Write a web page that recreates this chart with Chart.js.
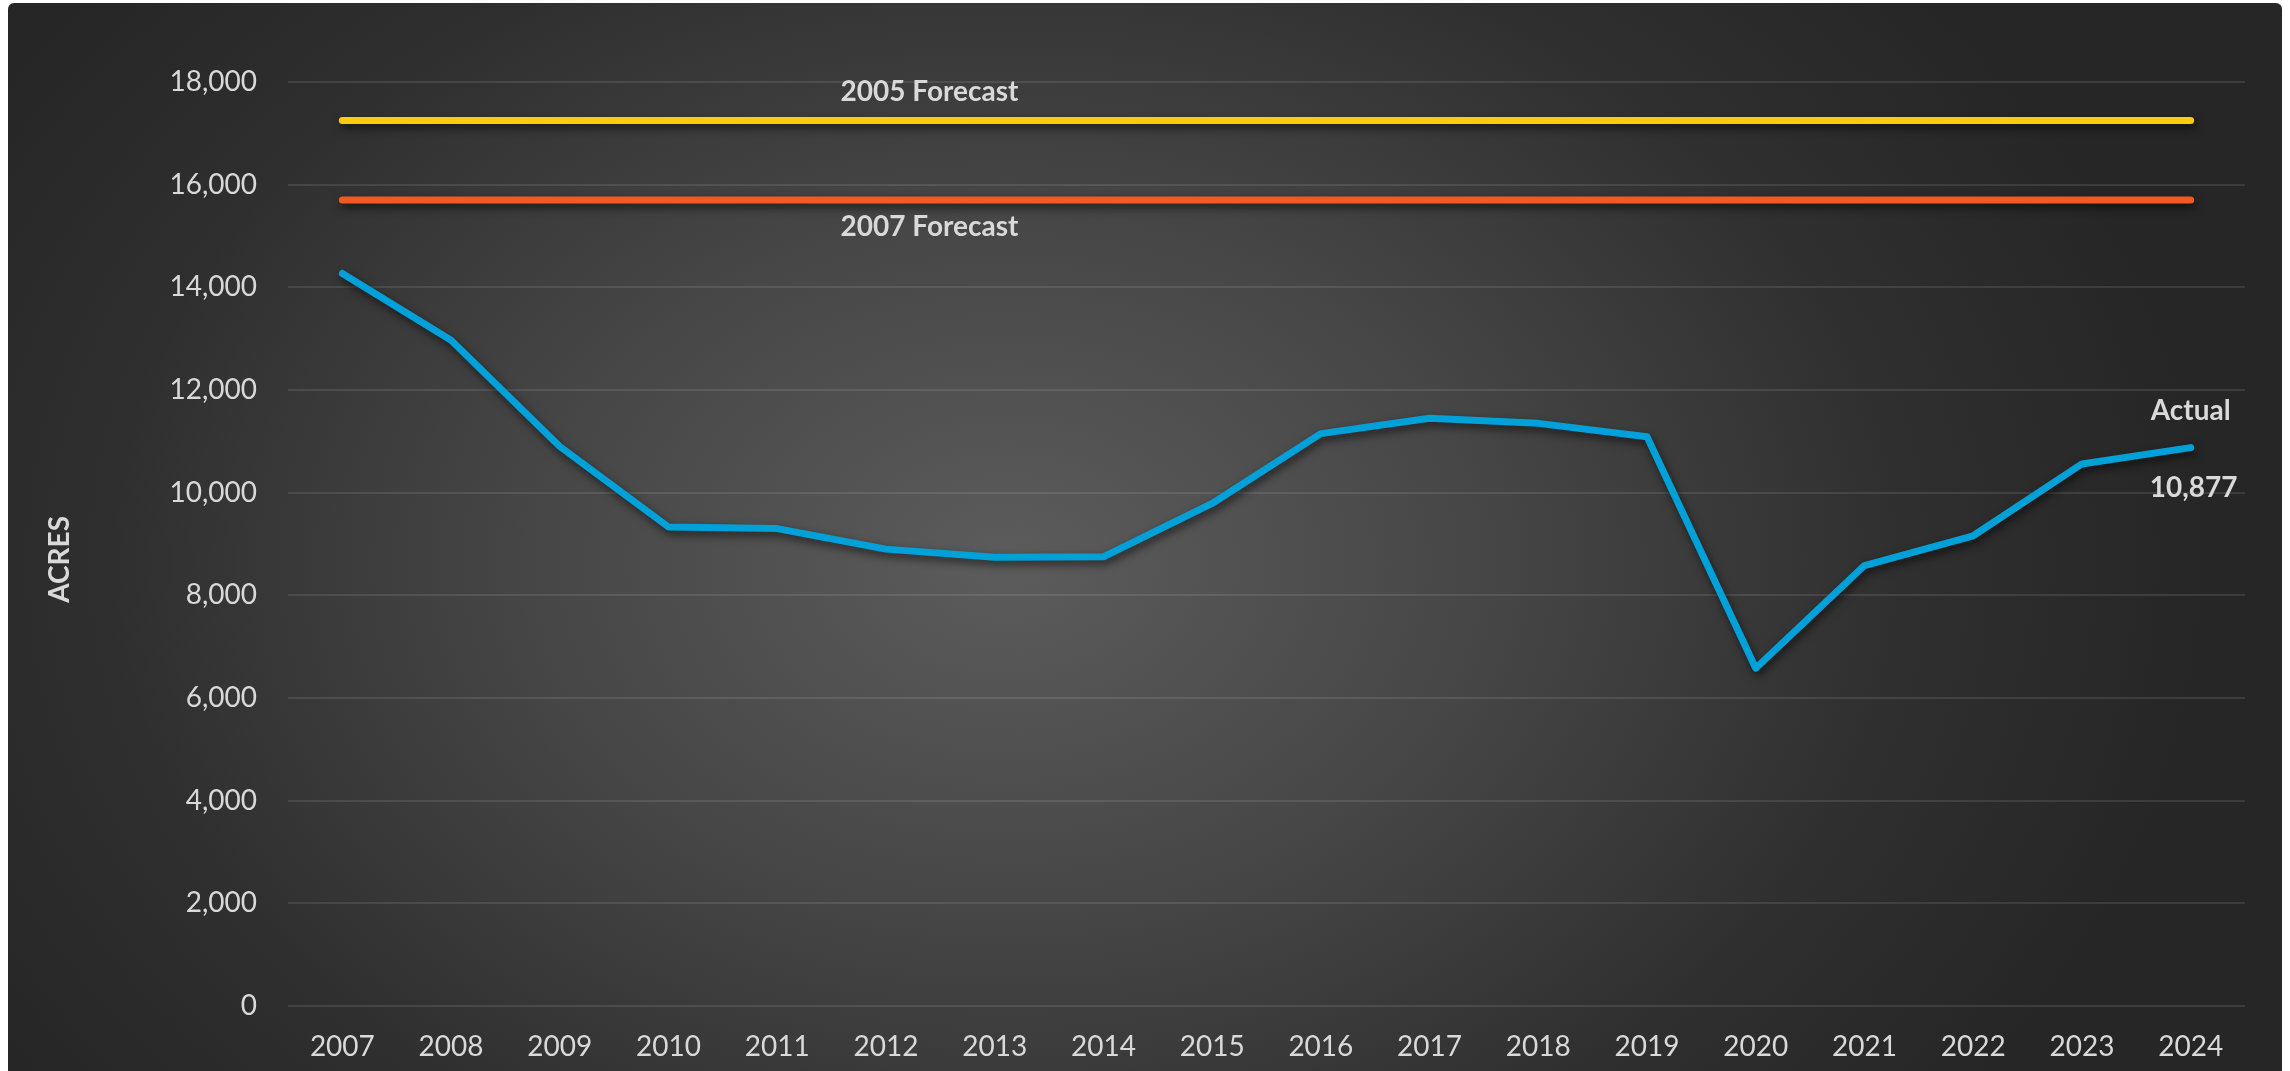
<!DOCTYPE html>
<html>
<head>
<meta charset="utf-8">
<script src="https://cdn.jsdelivr.net/npm/chart.js@4"></script>
<style>
  html, body { margin: 0; padding: 0; background: #fff; }
  #panel {
    position: absolute; left: 8px; top: 3px; width: 2274px; height: 1100px;
    border-radius: 6px;
    background: radial-gradient(ellipse 1200px 880px at 1000px 560px, #5c5c5c 0%, #464646 40%, #2f2f2f 75%, #262626 100%);
  }
  #wrap { position: absolute; left: 0; top: 0; width: 2290px; height: 1071px; }
</style>
</head>
<body>
<div id="panel"></div>
<div id="wrap"><canvas id="myChart" width="2290" height="1071"></canvas></div>
<script>
const years = ['2007', '2008', '2009', '2010', '2011', '2012', '2013', '2014', '2015',
    '2016', '2017', '2018', '2019', '2020', '2021', '2022', '2023', '2024'];
const actualAcres = [14270, 12970, 10900, 9330, 9300, 8900, 8740, 8750, 9790,
    11150, 11450, 11350, 11090, 6580, 8580, 9160, 10560, 10877];
const forecast2005 = 17250;
const forecast2007 = 15700;
const yTicks = [0, 2000, 4000, 6000, 8000, 10000, 12000, 14000, 16000, 18000];

const textColor = '#d9d9d9';
const fontFamily = 'Lato, "Open Sans", sans-serif';

let ctx = document.getElementById('myChart').getContext('2d');

// soft drop shadow under every line
const lineShadow = {
    id: 'lineShadow',
    beforeDatasetsDraw(chart) {
        const c = chart.ctx;
        c.save();
        c.shadowColor = 'rgba(0, 0, 0, 0.6)';
        c.shadowBlur = 9;
        c.shadowOffsetX = 2;
        c.shadowOffsetY = 4;
    },
    afterDatasetsDraw(chart) {
        chart.ctx.restore();
    },
};

// text labels next to the lines, plus the y axis title
const lineLabels = {
    id: 'lineLabels',
    afterDatasetsDraw(chart) {
        const c = chart.ctx;
        const x = chart.scales.x;
        const y = chart.scales.y;
        const last = actualAcres.length - 1;
        c.save();
        c.fillStyle = textColor;
        c.font = 'bold 28px ' + fontFamily;
        c.textAlign = 'center';
        c.textBaseline = 'middle';
        c.fillText('2005 Forecast', x.getPixelForValue(5.4), y.getPixelForValue(forecast2005) - 29);
        c.fillText('2007 Forecast', x.getPixelForValue(5.4), y.getPixelForValue(forecast2007) + 27);
        const ex = x.getPixelForValue(last);
        const ey = y.getPixelForValue(actualAcres[last]);
        c.fillText('Actual', ex, ey - 37);
        c.fillText(actualAcres[last].toLocaleString('en-US'), ex + 3, ey + 40);
        // axis title
        c.translate(60, y.getPixelForValue(8700));
        c.rotate(-Math.PI / 2);
        c.fillText('ACRES', 0, 0);
        c.restore();
    },
};

new Chart(ctx, {
    type: 'line',
    data: {
        labels: years,
        datasets: [
            {
                label: '2005 Forecast',
                data: [{ x: years[0], y: forecast2005 }, { x: years[years.length - 1], y: forecast2005 }],
                borderColor: '#fdca10',
                borderWidth: 7,
                borderCapStyle: 'round',
                pointRadius: 0,
            },
            {
                label: '2007 Forecast',
                data: [{ x: years[0], y: forecast2007 }, { x: years[years.length - 1], y: forecast2007 }],
                borderColor: '#f15a22',
                borderWidth: 7,
                borderCapStyle: 'round',
                pointRadius: 0,
            },
            {
                label: 'Actual',
                data: actualAcres,
                borderColor: '#00a0d8',
                borderWidth: 7,
                borderCapStyle: 'round',
                borderJoinStyle: 'round',
                pointRadius: 0,
                tension: 0,
            },
        ],
    },
    options: {
        responsive: false,
        animation: false,
        layout: { padding: { top: 82, right: 45, left: 0, bottom: 0 } },
        plugins: {
            legend: { display: false },
            tooltip: { enabled: false },
        },
        scales: {
            x: {
                type: 'category',
                offset: true,
                grid: { display: false, drawTicks: false },
                border: { display: false },
                ticks: {
                    color: textColor,
                    padding: 24,
                    font: { family: fontFamily, size: 28 },
                    maxRotation: 0,
                },
                afterFit: (s) => { s.height = 65; },
            },
            y: {
                min: 0,
                max: 18000,
                afterBuildTicks: (s) => { s.ticks = yTicks.map((v) => ({ value: v })); },
                grid: { color: 'rgba(255, 255, 255, 0.1)', lineWidth: 2, drawTicks: false },
                border: { display: false },
                ticks: {
                    color: textColor,
                    padding: 31,
                    font: { family: fontFamily, size: 28 },
                    callback: (v) => v.toLocaleString('en-US'),
                },
                afterFit: (s) => { s.width = 288; },
            },
        },
    },
    plugins: [lineShadow, lineLabels],
});
</script>
</body>
</html>
